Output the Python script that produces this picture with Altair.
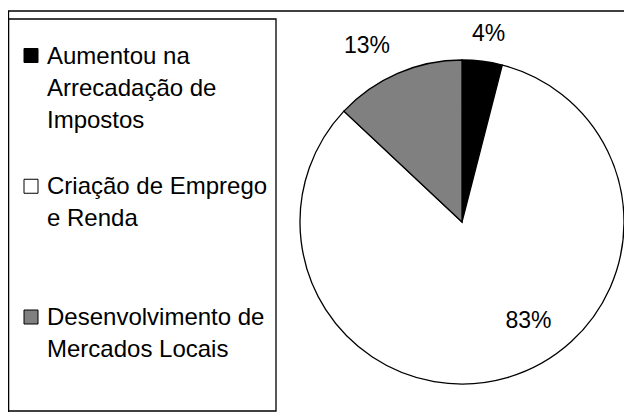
import altair as alt
import pandas as pd

# ---- data ----
categories = [
    "Aumentou na Arrecadação de Impostos",
    "Criação de Emprego e Renda",
    "Desenvolvimento de Mercados Locais",
]
legend_lines = [
    "Aumentou na|Arrecadação de|Impostos",
    "Criação de Emprego|e Renda",
    "Desenvolvimento de|Mercados Locais",
]
values = [4, 83, 13]
pct_labels = ["4%", "83%", "13%"]
slice_order = [0, 1, 2]

# ---- styles ----
colors = ["#000000", "#ffffff", "#808080"]
FONT = "Liberation Sans"
W, H = 616, 404
CX, CY, R = 454, 214, 162
# label placement per slice: (radius, dx, dy)
label_style = {"4%": (189, 3, 0), "13%": (199, -16, 7), "83%": (113, 35, -10)}

df = pd.DataFrame({
    "cat": categories,
    "lines": legend_lines,
    "value": values,
    "label": pct_labels,
    "idx": slice_order,
})

base = alt.Chart(df)
color = alt.Color("cat:N", scale=alt.Scale(domain=categories, range=colors), legend=None)
theta_scale = alt.Scale(domain=[0, 100])

pie = base.mark_arc(outerRadius=R, stroke="black", strokeWidth=1.3).encode(
    theta=alt.Theta("value:Q", stack=True, scale=theta_scale),
    order=alt.Order("idx:Q"),
    color=color,
    x=alt.value(CX),
    y=alt.value(CY),
)

label_layers = []
for lab in pct_labels:
    r, dx, dy = label_style[lab]
    label_layers.append(
        base.transform_stack(
            stack="value", groupby=[], as_=["v0", "v1"],
            sort=[alt.SortField("idx", order="ascending")],
        ).transform_calculate(mid="(datum.v0 + datum.v1) / 2")
        .transform_filter(alt.datum.label == lab)
        .mark_text(radius=r, dx=dx, dy=dy, fontSize=23, font=FONT, color="black")
        .encode(
            theta=alt.Theta("mid:Q", scale=theta_scale),
            text="label:N",
            x=alt.value(CX),
            y=alt.value(CY),
        )
    )

ysc = alt.Y(
    "cat:N",
    scale=alt.Scale(type="point", domain=categories, range=[47.5, 309], padding=0),
    axis=None,
)

squares = base.mark_point(
    shape="square", size=196, filled=True, stroke="black", strokeWidth=1, opacity=1
).encode(x=alt.value(23), y=ysc, color=color)

texts = base.transform_calculate(ln="split(datum.lines, '|')").mark_text(
    align="left", baseline="alphabetic", dy=8, lineHeight=32, fontSize=24, font=FONT, color="black"
).encode(x=alt.value(39), y=ysc, text="ln:N")

one = alt.Data(values=[{"a": 1}])
outer = alt.Chart(one).mark_rect(fillOpacity=0, stroke="black", strokeWidth=1.3).encode(
    x=alt.value(0.5), x2=alt.value(W + 20), y=alt.value(3), y2=alt.value(H + 20)
)
legend_box = alt.Chart(one).mark_rect(fillOpacity=0, stroke="black", strokeWidth=1.3).encode(
    x=alt.value(0.5), x2=alt.value(268), y=alt.value(11), y2=alt.value(403)
)

chart = alt.layer(outer, legend_box, pie, *label_layers, squares, texts).properties(
    width=W, height=H, padding=0, autosize=alt.AutoSizeParams(type="none"), background="white"
).configure_view(stroke=None)

chart.save("out.html", embed_options={"renderer": "svg", "actions": False})
